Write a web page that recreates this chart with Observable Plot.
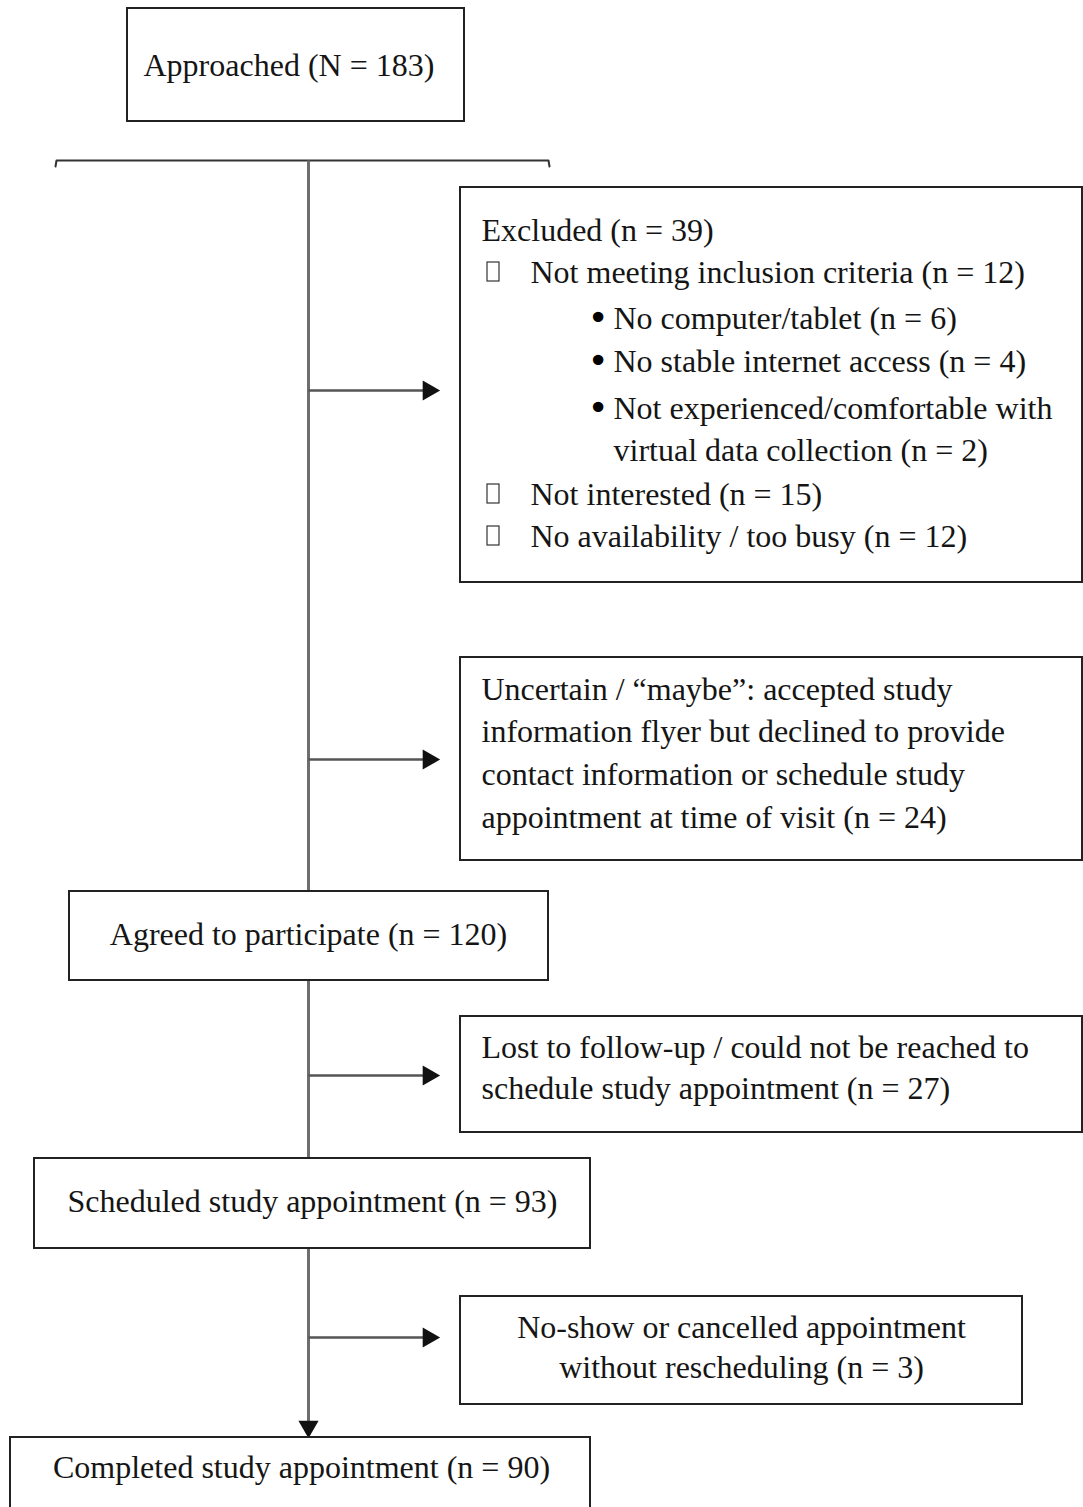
<!DOCTYPE html>
<html>
<head>
<meta charset="utf-8">
<script src="https://cdn.jsdelivr.net/npm/d3@7"></script>
<script src="https://cdn.jsdelivr.net/npm/@observablehq/plot@0.6"></script>
<style>
  html, body { margin: 0; padding: 0; background: #fff; }
  #chart svg { display: block; }
</style>
</head>
<body>
<div id="chart"></div>
<script>
// ---- Flow data (stage labels and counts) ----
const mainStages = ["Approached", "Agreed to participate", "Scheduled study appointment", "Completed study appointment"];
const mainCounts = [183, 120, 93, 90];
const mainSymbols = ["N", "n", "n", "n"];

const excludedTitle = "Excluded";
const excludedCount = 39;
const excludedReasons = ["Not meeting inclusion criteria", "Not interested", "No availability / too busy"];
const excludedReasonCounts = [12, 15, 12];
const criteriaSub = ["No computer/tablet", "No stable internet access", "Not experienced/comfortable with virtual data collection"];
const criteriaSubCounts = [6, 4, 2];

const uncertainLines = ["Uncertain / \u201cmaybe\u201d: accepted study", "information flyer but declined to provide", "contact information or schedule study", "appointment at time of visit (n = 24)"];
const lostLines = ["Lost to follow-up / could not be reached to", "schedule study appointment (n = 27)"];
const noShowLines = ["No-show or cancelled appointment", "without rescheduling (n = 3)"];

// ---- Layout (pixel frame of the diagram) ----
const W = 1083, H = 1507;
const trunkX = 308;
const FONT = "'Liberation Serif', 'Times New Roman', serif";
const FS = 32;
const INK = "#151515";

const mainBoxes = [
  {x1: 127, x2: 464, y1: 8, y2: 121},
  {x1: 69, x2: 548, y1: 891, y2: 980},
  {x1: 34, x2: 590, y1: 1158, y2: 1248},
  {x1: 10, x2: 590, y1: 1437, y2: 1530}
];
const mainText = [
  {x: 143, y: 65, anchor: "start"},
  {x: 308, y: 934, anchor: "middle"},
  {x: 312, y: 1201, anchor: "middle"},
  {x: 301, y: 1467, anchor: "middle"}
];
const sideBoxes = [
  {x1: 460, x2: 1082, y1: 187, y2: 582},
  {x1: 460, x2: 1082, y1: 657, y2: 860},
  {x1: 460, x2: 1082, y1: 1016, y2: 1132},
  {x1: 460, x2: 1022, y1: 1296, y2: 1404}
];
const branchY = [390, 759, 1075, 1337];

// ---- Build text rows ----
const rows = [];
mainStages.forEach((s, i) => rows.push({
  text: `${s} (${mainSymbols[i]} = ${mainCounts[i]})`,
  x: mainText[i].x, y: mainText[i].y, anchor: mainText[i].anchor
}));
rows.push({text: `${excludedTitle} (n = ${excludedCount})`, x: 481, y: 230, anchor: "start"});
const reasonY = [272, 494, 536];
excludedReasons.forEach((r, i) => {
  rows.push({x1: 487, x2: 499, y1: reasonY[i] - 10, y2: reasonY[i] + 9, glyph: true});
  rows.push({text: `${r} (n = ${excludedReasonCounts[i]})`, x: 530, y: reasonY[i], anchor: "start"});
});
const subY = [318, 361, 408];
criteriaSub.forEach((c, i) => {
  rows.push({text: "\u2022", x: 587, y: subY[i], anchor: "start", bullet: true});
  if (i === 2) {
    rows.push({text: "Not experienced/comfortable with", x: 613, y: 408, anchor: "start"});
    rows.push({text: `virtual data collection (n = ${criteriaSubCounts[i]})`, x: 613, y: 450, anchor: "start"});
  } else {
    rows.push({text: `${c} (n = ${criteriaSubCounts[i]})`, x: 613, y: subY[i], anchor: "start"});
  }
});
[689, 731, 774, 817].forEach((y, i) => rows.push({text: uncertainLines[i], x: 481, y, anchor: "start"}));
[1047, 1088].forEach((y, i) => rows.push({text: lostLines[i], x: 481, y, anchor: "start"}));
[1327, 1367].forEach((y, i) => rows.push({text: noShowLines[i], x: 741, y, anchor: "middle"}));

const startRows = rows.filter(d => !d.glyph && !d.bullet && d.anchor === "start");
const middleRows = rows.filter(d => !d.glyph && d.anchor === "middle");
const bulletRows = rows.filter(d => d.bullet);
const glyphRows = rows.filter(d => d.glyph);

// ---- Connectors ----
const bracket = [{x: 55, y: 166}, {x: 56, y: 160}, {x: 548, y: 160}, {x: 549, y: 166}];
const trunk = [{x1: trunkX, y1: 160, x2: trunkX, y2: 1422}];
const branches = branchY.map(y => ({x1: trunkX, y1: y, x2: 425, y2: y}));
const headsRight = branchY.map(y => ({x: 428, y}));
const headDown = [{x: trunkX, y: 1426}];

const chart = Plot.plot({
  width: W,
  height: H,
  margin: 0,
  x: {domain: [0, W], range: [0, W], axis: null},
  y: {domain: [0, H], range: [0, H], axis: null},
  style: {background: "#fff"},
  marks: [
    Plot.line(bracket, {x: "x", y: "y", stroke: "#333", strokeWidth: 2}),
    Plot.link(trunk, {x1: "x1", y1: "y1", x2: "x2", y2: "y2", stroke: "#6e6e6e", strokeWidth: 3}),
    Plot.link(branches, {x1: "x1", y1: "y1", x2: "x2", y2: "y2", stroke: "#555", strokeWidth: 2.5}),
    Plot.dot(headsRight, {x: "x", y: "y", symbol: "triangle", r: 7.5, rotate: 90, fill: "#111", stroke: "none"}),
    Plot.dot(headDown, {x: "x", y: "y", symbol: "triangle", r: 7.5, rotate: 180, fill: "#111", stroke: "none"}),
    Plot.rect(mainBoxes, {x1: "x1", x2: "x2", y1: "y1", y2: "y2", fill: "#fff", stroke: "#222", strokeWidth: 2}),
    Plot.rect(sideBoxes, {x1: "x1", x2: "x2", y1: "y1", y2: "y2", fill: "#fff", stroke: "#222", strokeWidth: 2}),
    Plot.rect(glyphRows, {x1: "x1", x2: "x2", y1: "y1", y2: "y2", fill: "none", stroke: "#333", strokeWidth: 1.2}),
    Plot.text(startRows, {x: "x", y: "y", text: "text", textAnchor: "start", fontSize: FS, fontFamily: FONT, fill: INK}),
    Plot.text(middleRows, {x: "x", y: "y", text: "text", textAnchor: "middle", fontSize: FS, fontFamily: FONT, fill: INK}),
    Plot.text(bulletRows, {x: "x", y: "y", text: "text", textAnchor: "start", fontSize: 36, fontFamily: "'DejaVu Sans', sans-serif", fill: "#000"})
  ]
});
document.getElementById("chart").appendChild(chart);
</script>
</body>
</html>
